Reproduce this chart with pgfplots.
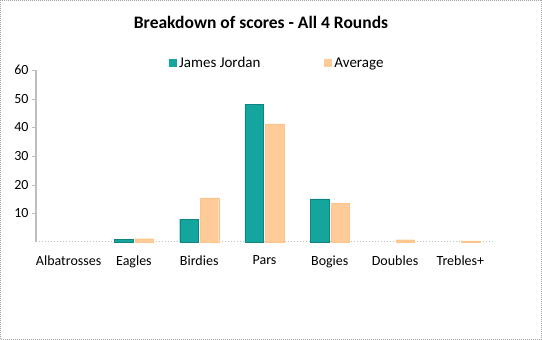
\documentclass[border=0pt]{standalone}
\usepackage{pgfplots}
\pgfplotsset{compat=1.18}
\usepackage{fontspec}
\setmainfont{Carlito}
\definecolor{jj}{RGB}{20,165,158}
\definecolor{avg}{RGB}{255,204,153}
\definecolor{axgray}{RGB}{190,190,190}
\begin{document}
\begin{tikzpicture}[x=1pt,y=1pt]
\useasboundingbox (0,0) rectangle (542,340);
\draw[gray!70, dash pattern=on 1pt off 1pt, line width=0.8pt] (0.5,0.5) rectangle (541.5,339.5);
\node[font=\fontsize{17.5}{20}\selectfont\bfseries] at (261,318) {Breakdown of scores - All 4 Rounds};
\begin{axis}[
  at={(36pt,98pt)}, anchor=south west,
  scale only axis, width=457pt, height=172pt,
  ybar, bar width=18.5pt,
  xmin=-0.5, xmax=6.5, ymin=0, ymax=60,
  ytick={10,20,30,40,50,60},
  xtick={0,...,6},
  xticklabels={Albatrosses,Eagles,Birdies,Pars,Bogies,Doubles,Trebles+},
  extra x ticks={-0.5,0.5,...,6.5},
  extra x tick labels={},
  extra x tick style={major tick length=4pt, tick style={axgray}},
  x tick style={draw=none},
  major tick length=4pt,
  y tick style={axgray},
  tick align=outside,
  axis x line*=bottom, axis y line*=left,
  x axis line style={axgray, dotted, line width=1pt, -},
  y axis line style={axgray, line width=1.6pt, -},
  tick label style={font=\fontsize{14}{16}\selectfont},
  /pgf/number format/assume math mode=true,
  xticklabel style={yshift=-6pt},
  legend style={at={(0.528,1.04)}, anchor=center, draw=none, fill=none,
     legend columns=2, font=\fontsize{15}{18}\selectfont,
     /tikz/every even column/.append style={column sep=62pt}},
  legend image code/.code={\draw[#1, draw=none] (-3pt,-4pt) rectangle (5pt,4pt);},
  clip=false,
]
\addplot[fill=jj, draw=jj!80!black, line width=0.3pt] coordinates {(1,1) (2,8) (3,48) (4,15)};
\addplot[fill=avg, draw=avg!90!orange, line width=0.3pt] coordinates {(1,1.15) (2,15.4) (3,41.2) (4,13.6) (5,0.8) (6,0.35)};
\legend{James Jordan, Average}
\end{axis}
\end{tikzpicture}
\end{document}
